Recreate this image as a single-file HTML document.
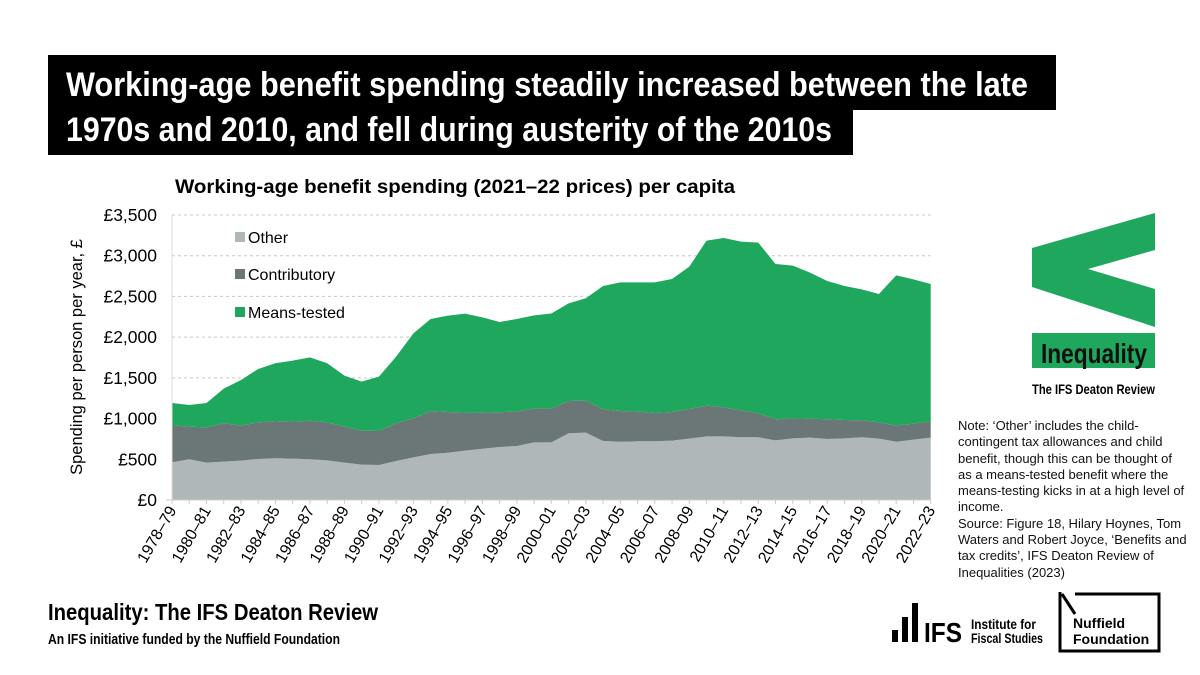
<!DOCTYPE html>
<html><head><meta charset="utf-8"><style>
body{margin:0;width:1200px;height:675px;background:#fff;overflow:hidden;position:relative;font-family:"Liberation Sans",sans-serif}
.abs{position:absolute}
</style></head><body>
<div class="abs" style="left:48px;top:55px;width:1008px;height:55px;background:#000"></div>
<div class="abs" style="left:48px;top:108px;width:805px;height:47px;background:#000"></div>

<svg class="abs" style="left:0;top:0" width="1200" height="675" font-family="Liberation Sans, sans-serif" font-weight="bold">
<text x="66" y="96" font-size="34" fill="#fff" textLength="962" lengthAdjust="spacingAndGlyphs">Working-age benefit spending steadily increased between the late</text>
<text x="66" y="141" font-size="34" fill="#fff" textLength="766" lengthAdjust="spacingAndGlyphs">1970s and 2010, and fell during austerity of the 2010s</text>
<text x="48" y="620" font-size="23" textLength="330" lengthAdjust="spacingAndGlyphs">Inequality: The IFS Deaton Review</text>
<text x="48" y="644" font-size="15" textLength="292" lengthAdjust="spacingAndGlyphs">An IFS initiative funded by the Nuffield Foundation</text>
</svg>

<svg class="abs" style="left:0;top:0" width="1200" height="675">
<text x="175" y="193" font-weight="bold" font-size="19" textLength="560" lengthAdjust="spacingAndGlyphs" font-family="Liberation Sans, sans-serif">Working-age benefit spending (2021–22 prices) per capita</text>
<g id="grid"></g><g id="areas"></g><g id="axes"></g>
<text transform="translate(82,357) rotate(-90)" text-anchor="middle" font-size="16.5" font-family="Liberation Sans, sans-serif">Spending per person per year, £</text>
<g font-size="16" font-family="Liberation Sans, sans-serif">
<rect x="235" y="232" width="10" height="10" fill="#b0b7b8"/><text x="248" y="243">Other</text>
<rect x="235" y="269" width="10" height="10" fill="#6b7777"/><text x="248" y="280">Contributory</text>
<rect x="235" y="307" width="10" height="10" fill="#1ea75d"/><text x="248" y="318">Means-tested</text>
</g>
</svg>

<svg class="abs" style="left:0;top:0" width="1200" height="675">
<polygon points="1032,248 1155,213 1155,250 1088,269 1155,289 1155,327 1032,287" fill="#1ea75d"/>
<rect x="1032" y="333" width="123" height="35" fill="#1ea75d"/>
<text x="1041" y="363" font-size="28" font-weight="bold" textLength="106" lengthAdjust="spacingAndGlyphs" font-family="Liberation Sans, sans-serif" fill="#111">Inequality</text>
<text x="1032" y="394" font-size="14" font-weight="bold" textLength="123" lengthAdjust="spacingAndGlyphs" font-family="Liberation Sans, sans-serif">The IFS Deaton Review</text>
</svg>

<div class="abs" style="left:958px;top:418px;width:240px;font-size:13px;line-height:16.3px;color:#111;white-space:nowrap">Note: ‘Other’ includes the child-<br>contingent tax allowances and child<br>benefit, though this can be thought of<br>as a means-tested benefit where the<br>means-testing kicks in at a high level of<br>income.<br>Source: Figure 18, Hilary Hoynes, Tom<br>Waters and Robert Joyce, ‘Benefits and<br>tax credits’, IFS Deaton Review of<br>Inequalities (2023)</div>

<svg class="abs" style="left:880px;top:580px" width="300" height="80" font-family="Liberation Sans, sans-serif" font-weight="bold">
<rect x="12" y="50" width="6" height="12" fill="#000"/><rect x="22" y="37" width="6" height="25" fill="#000"/><rect x="32" y="23" width="6" height="39" fill="#000"/>
<text x="44" y="62" font-size="28" textLength="38" lengthAdjust="spacingAndGlyphs">IFS</text>
<text x="91" y="49" font-size="14" textLength="65" lengthAdjust="spacingAndGlyphs">Institute for</text>
<text x="91" y="63" font-size="14" textLength="72" lengthAdjust="spacingAndGlyphs">Fiscal Studies</text>
<path d="M180,12 L180,71 L279,71 L279,14 L195,14 M182,14 L195,34" fill="none" stroke="#000" stroke-width="3"/>
<text x="193" y="48" font-size="14">Nuffield</text>
<text x="193" y="64" font-size="14">Foundation</text>
</svg>

<script>
const years=[];for(let y=1978;y<=2022;y++)years.push(y+'–'+String((y+1)%100).padStart(2,'0'));
const other=[463,500,459,471,483,504,512,508,500,487,459,434,430,479,524,565,581,606,630,651,663,708,708,819,827,725,716,721,721,729,753,782,782,770,770,733,757,766,749,757,770,753,716,741,766];
const contributory=[454,401,433,471,430,450,458,454,474,467,442,418,417,463,479,528,500,467,443,426,426,414,414,397,393,389,377,364,348,352,365,377,356,332,295,258,246,233,242,226,208,201,197,197,200];
const meansTested=[274,266,299,425,561,655,709,749,778,725,626,601,668,818,1044,1130,1183,1216,1170,1109,1134,1146,1168,1199,1257,1514,1580,1588,1604,1633,1748,2026,2080,2071,2096,1908,1875,1793,1699,1645,1609,1576,1846,1772,1687];
const yTicks=[0,500,1000,1500,2000,2500,3000,3500];
const NS='http://www.w3.org/2000/svg';
const X0=172,X1=930.7,Y0=500,Y1=215,YMAX=3500;
const xs=i=>X0+(X1-X0)*i/(years.length-1);
const ys=v=>Y0-(Y0-Y1)*v/YMAX;
function mk(tag,attrs,parent){const e=document.createElementNS(NS,tag);for(const k in attrs)e.setAttribute(k,attrs[k]);parent.appendChild(e);return e;}
const grid=document.getElementById('grid'),areas=document.getElementById('areas'),axes=document.getElementById('axes');
yTicks.forEach(t=>{
 if(t>0){const l=mk('line',{x1:X0,x2:X1,y1:ys(t),y2:ys(t),stroke:'#c8c8c8','stroke-dasharray':'3,3'},grid);
 
 }
 const tx=mk('text',{x:157,y:ys(t)+6,'text-anchor':'end','font-size':17.5,'font-family':'Liberation Sans, sans-serif'},axes);
 tx.textContent='£'+t.toLocaleString('en-GB');
 
 
});
const series=[['other-area',other,'#b0b7b8'],['contributory-area',contributory,'#6b7777'],['means-tested-area',meansTested,'#1ea75d']];
let base=years.map(()=>0);
series.forEach(([name,vals,col])=>{
 const top=base.map((b,i)=>b+vals[i]);
 let d='M'+top.map((v,i)=>xs(i)+','+ys(v)).join(' L');
 for(let i=years.length-1;i>=0;i--)d+=' L'+xs(i)+','+ys(base[i]);
 const p=mk('path',{d:d+'Z',fill:col},areas);
 
 
 base=top;
});
const ax=mk('line',{x1:X0-6,x2:X1,y1:Y0,y2:Y0,stroke:'#ccc'},axes);


mk('line',{x1:X0,x2:X0,y1:Y1,y2:Y0,stroke:'#ddd'},axes);
years.forEach((yr,i)=>{
 mk('line',{x1:xs(i),x2:xs(i),y1:Y0,y2:Y0+4,stroke:'#ccc'},axes);
 if(i%2===0){const t=mk('text',{transform:`translate(${xs(i)+5},${Y0+10}) rotate(-60)`,'text-anchor':'end','font-size':16,'font-family':'Liberation Sans, sans-serif'},axes);
 t.textContent=yr;
 
 }
});
</script>
</body></html>
